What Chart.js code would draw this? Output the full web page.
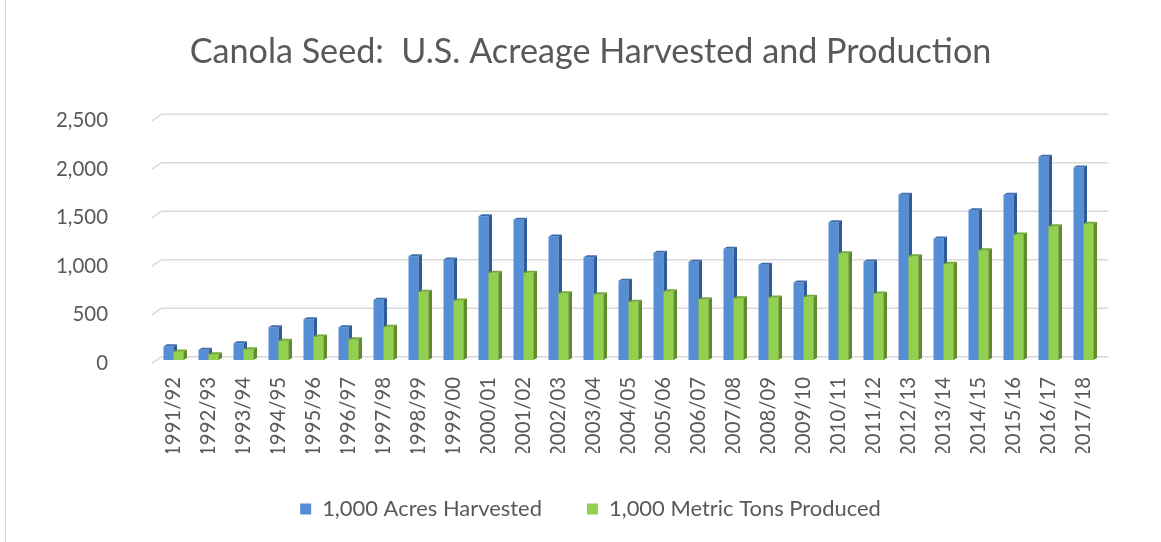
<!DOCTYPE html>
<html><head><meta charset="utf-8">
<script src="https://cdn.jsdelivr.net/npm/chart.js@4.4.1/dist/chart.umd.min.js"></script>
<style>
html,body{margin:0;padding:0;background:#fff;}
#wrap{position:relative;width:1161px;height:542px;overflow:hidden;}
#wrap:before{content:"";position:absolute;left:5px;top:0;bottom:0;border-left:1px solid #d9d9d9;}
canvas{display:block;}
</style></head><body>
<div id="wrap"><canvas id="c" width="1161" height="542"></canvas></div>
<script>
// ---- data ----
const categories = ['1991/92','1992/93','1993/94','1994/95','1995/96','1996/97','1997/98','1998/99','1999/00','2000/01','2001/02','2002/03','2003/04','2004/05','2005/06','2006/07','2007/08','2008/09','2009/10','2010/11','2011/12','2012/13','2013/14','2014/15','2015/16','2016/17','2017/18'];
const acresHarvested = [142,105,173,338,421,338,620,1070,1036,1482,1445,1273,1060,816,1105,1012,1146,981,799,1421,1015,1703,1253,1545,1703,2095,1985];
const metricTonsProduced = [88,60,111,198,242,214,342,703,613,899,899,689,679,600,709,627,637,644,651,1101,686,1070,992,1132,1294,1379,1404];
const yTickValues = [0,500,1000,1500,2000,2500];
const seriesLabels = ['1,000 Acres Harvested','1,000 Metric Tons Produced'];
const titleText = 'Canola Seed:  U.S. Acreage Harvested and Production';

// ---- style ----
const FAMILY = 'Lato, "Open Sans", sans-serif';
const TEXT = '#595959';
function fitSize(text, target){
  const ctx = document.createElement('canvas').getContext('2d');
  ctx.font = '100px ' + FAMILY;
  return 100 * target / ctx.measureText(text).width;
}
const titleSize = fitSize(titleText, 802);
const tickSize = fitSize('2,500', 52);
const catSize = fitSize('1991/92', 80);
const legendSize = fitSize(seriesLabels[1], 272);

const PAD_L = 20, RIGHT_GUTTER = 60;
const AREA_LEFT = 156, AREA_TOP = 117.5, AREA_BOTTOM = 360;
const titleTop = 52 - 0.6 * titleSize;
const titleBottom = AREA_TOP - titleTop - 1.2 * titleSize;
const LEG_PAD = 45;
const legendTop = 509 - LEG_PAD - legendSize / 2;
const xAxisHeight = legendTop - AREA_BOTTOM;
const legendHeight = legendSize + LEG_PAD + 10;
const PAD_B = 542 - legendTop - legendHeight;

const depth = {dx: 3.5, dy: 2};
const frontColors = ['#558ed5', '#92d050'];
const sideColors = ['#2f5b96', '#5f8c2c'];
const topColors = ['#3c6cad', '#76a93b'];

const backGrid = {
  id: 'backGrid',
  beforeDatasetsDraw(chart){
    const {ctx, chartArea} = chart;
    const y = chart.scales.y;
    ctx.save();
    ctx.strokeStyle = '#d9d9d9';
    ctx.lineWidth = 1.6;
    yTickValues.forEach(v => {
      const py = y.getPixelForValue(v);
      ctx.beginPath();
      ctx.moveTo(chartArea.left - 4.3, py + 3.3);
      ctx.lineTo(chartArea.left + 5.7, py - 3.3);
      ctx.lineTo(chartArea.right + 7, py - 3.3);
      ctx.stroke();
    });
    ctx.restore();
  }
};

function drawFaces(ctx, meta, i){
  const {dx, dy} = depth;
  meta.data.forEach(bar => {
    const p = bar.getProps(['x','y','base','width'], true);
    const l = p.x - p.width / 2, r = p.x + p.width / 2;
    ctx.fillStyle = sideColors[i];
    ctx.beginPath();
    ctx.moveTo(r, p.y); ctx.lineTo(r + dx, p.y - dy);
    ctx.lineTo(r + dx, p.base - dy); ctx.lineTo(r, p.base);
    ctx.closePath(); ctx.fill();
    ctx.fillStyle = topColors[i];
    ctx.beginPath();
    ctx.moveTo(l, p.y); ctx.lineTo(l + dx, p.y - dy);
    ctx.lineTo(r + dx, p.y - dy); ctx.lineTo(r, p.y);
    ctx.closePath(); ctx.fill();
  });
}

const bar3d = {
  id: 'bar3d',
  afterDatasetsDraw(chart){
    const ctx = chart.ctx;
    ctx.save();
    const m0 = chart.getDatasetMeta(0), m1 = chart.getDatasetMeta(1);
    drawFaces(ctx, m0, 0);
    m1.data.forEach(el => el.draw(ctx));   // green front sits in front of blue's side face
    drawFaces(ctx, m1, 1);
    ctx.restore();
  }
};

new Chart(document.getElementById('c'), {
  type: 'bar',
  data: {
    labels: categories,
    datasets: [
      {label: seriesLabels[0], data: acresHarvested, backgroundColor: frontColors[0]},
      {label: seriesLabels[1], data: metricTonsProduced, backgroundColor: frontColors[1]}
    ]
  },
  options: {
    responsive: false,
    animation: false,
    devicePixelRatio: 1,
    layout: {padding: {left: PAD_L, right: 0, top: 0, bottom: PAD_B}},
    datasets: {bar: {categoryPercentage: 20/35, barPercentage: 1, borderWidth: 0}},
    scales: {
      x: {
        grid: {display: false, drawTicks: false},
        border: {display: false},
        ticks: {autoSkip: false, maxRotation: 90, minRotation: 90, padding: 17,
                color: TEXT, font: {family: FAMILY, size: catSize}},
        afterFit(s){ s.height = xAxisHeight; }
      },
      y: {
        min: 0, max: 2500,
        grid: {display: false, drawTicks: false},
        border: {display: false},
        afterBuildTicks(s){ s.ticks = yTickValues.map(v => ({value: v})); },
        ticks: {padding: 48, labelOffset: 3, color: TEXT, font: {family: FAMILY, size: tickSize},
                callback: v => v.toLocaleString('en-US')},
        afterFit(s){ s.width = AREA_LEFT - PAD_L; }
      },
      gutter: {
        type: 'linear', position: 'right', min: 0, max: 1,
        grid: {display: false, drawTicks: false},
        border: {display: false},
        ticks: {display: false},
        afterFit(s){ s.width = RIGHT_GUTTER; }
      }
    },
    plugins: {
      title: {display: true, text: titleText, color: TEXT,
              font: {family: FAMILY, size: titleSize, weight: 'normal', lineHeight: 1.2},
              padding: {top: titleTop, bottom: titleBottom}},
      legend: {position: 'bottom',
               labels: {boxWidth: 11, boxHeight: 11, padding: LEG_PAD, color: TEXT,
                        font: {family: FAMILY, size: legendSize}}},
      tooltip: {enabled: false}
    }
  },
  plugins: [backGrid, bar3d]
});
</script>
</body></html>
